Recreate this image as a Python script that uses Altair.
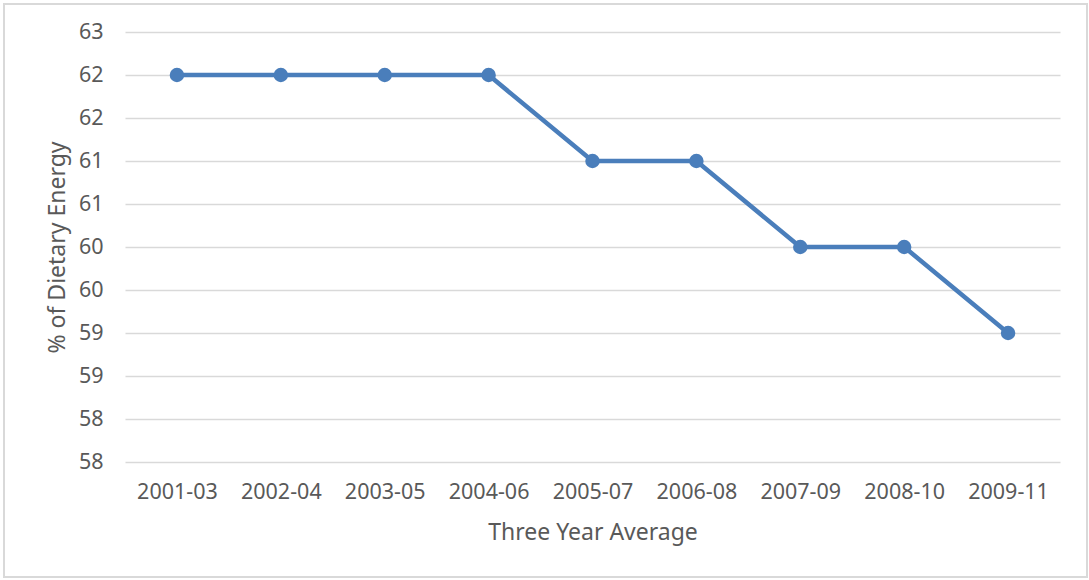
import altair as alt
import pandas as pd

# Three-year averages and share of dietary energy (%)
periods = ["2001-03", "2002-04", "2003-05", "2004-06", "2005-07",
           "2006-08", "2007-09", "2008-10", "2009-11"]
share = [62.3, 62.3, 62.3, 62.3, 61.3, 61.3, 60.3, 60.3, 59.3]
y_ticks = [57.8, 58.3, 58.8, 59.3, 59.8, 60.3, 60.8, 61.3, 61.8, 62.3, 62.8]

df = pd.DataFrame({"period": periods, "share": share})

FONT = "Noto Sans"
GREY = "#595959"
BLUE = "#4a7ebb"

x = alt.X(
    "period:N",
    sort=periods,
    scale=alt.Scale(paddingInner=0, paddingOuter=0, align=0.5),
    axis=alt.Axis(
        title="Three Year Average",
        labelAngle=0,
        labelFontSize=21.5,
        labelColor=GREY,
        labelFont=FONT,
        labelPadding=19,
        ticks=False,
        domain=False,
        grid=False,
        titleFont=FONT,
        titleFontSize=23,
        titleFontWeight="normal",
        titleColor=GREY,
        titleY=70,
        titleBaseline="middle",
    ),
)
y = alt.Y(
    "share:Q",
    scale=alt.Scale(domain=[57.8, 62.8], nice=False, zero=False),
    axis=alt.Axis(
        title="% of Dietary Energy",
        values=y_ticks,
        format=".0f",
        labelFontSize=21.5,
        labelColor=GREY,
        labelFont=FONT,
        labelPadding=22,
        ticks=False,
        domain=False,
        grid=True,
        gridColor="#d9d9d9",
        gridWidth=1.5,
        titleFont=FONT,
        titleFontSize=23,
        titleFontWeight="normal",
        titleColor=GREY,
        titleX=-68,
        titleY=215,
        titleBaseline="middle",
    ),
)

frame = alt.Chart(df).mark_rect(
    fill=None, stroke="#d9d9d9", strokeWidth=1.5
).encode(
    x=alt.value(-121), x2=alt.value(962),
    y=alt.value(-28), y2=alt.value(545),
)

line = alt.Chart(df).mark_line(color=BLUE, strokeWidth=4.5).encode(x=x, y=y)
dots = alt.Chart(df).mark_circle(color=BLUE, size=210, opacity=1).encode(x=x, y=y)

chart = (
    alt.layer(frame, line, dots)
    .properties(
        width=935,
        height=430,
        padding={"left": 125, "top": 32, "right": 29, "bottom": 118},
        autosize=alt.AutoSizeParams(type="none"),
        background="white",
    )
    .configure_view(stroke=None)
)

chart.save("out.html", embed_options={"renderer": "svg", "actions": False})
